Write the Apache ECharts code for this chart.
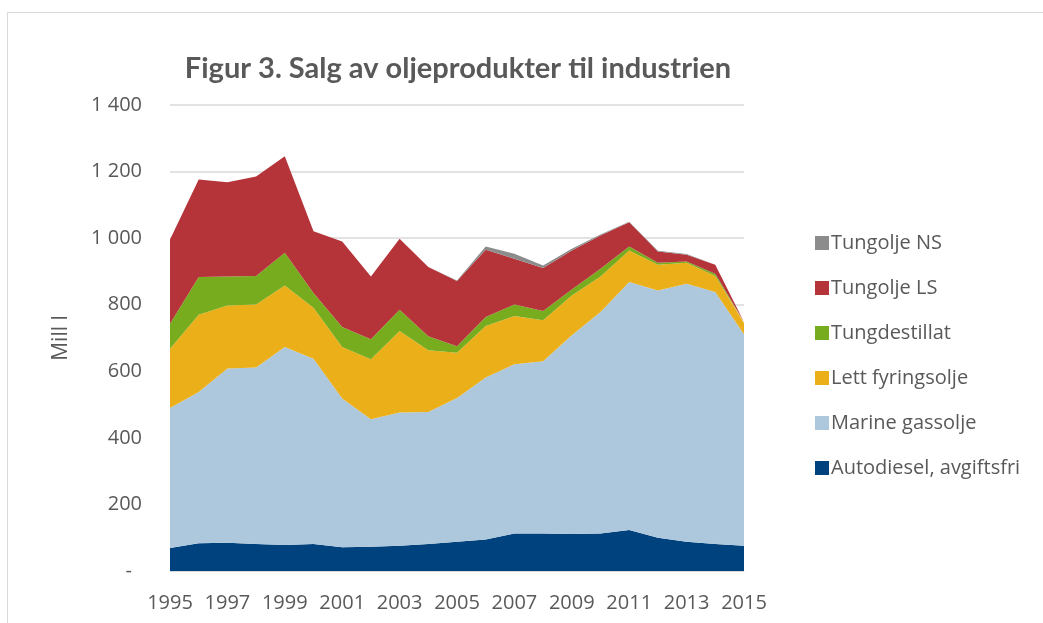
<!DOCTYPE html>
<html>
<head>
<meta charset="utf-8">
<script src="https://cdn.jsdelivr.net/npm/echarts@6/dist/echarts.min.js"></script>
<style>
  html, body { margin: 0; padding: 0; background: #fff; }
  #chart { width: 1043px; height: 623px; }
</style>
</head>
<body>
<div id="chart"></div>
<script>
// år
const years = ['1995','1996','1997','1998','1999','2000','2001','2002','2003','2004','2005',
  '2006','2007','2008','2009','2010','2011','2012','2013','2014','2015'];
// Mill l, lest av figuren
const autodiesel = [69, 83, 85, 81, 78, 81, 71, 73, 76, 81, 88, 95, 113, 113, 111, 113, 123, 100, 88, 81, 76];
const marineGassolje = [421, 455, 523, 530, 595, 557, 447, 383, 400, 397, 432, 486, 508, 517, 597, 665, 745, 743, 775, 757, 635];
const lettFyringsolje = [178, 232, 190, 190, 185, 153, 155, 180, 245, 185, 136, 155, 145, 123, 120, 107, 95, 77, 63, 48, 34];
const tungdestillat = [75, 113, 87, 85, 98, 44, 60, 60, 64, 42, 19, 27, 35, 28, 18, 23, 12, 6, 4, 7, 2];
const tungoljeLS = [253, 293, 283, 299, 290, 186, 257, 189, 213, 208, 196, 202, 137, 129, 117, 100, 73, 34, 20, 27, 1];
const tungoljeNS = [0, 0, 0, 0, 0, 0, 0, 0, 0, 0, 2, 10, 15, 8, 5, 3, 1, 2, 2, 0, 0];
const yTicks = [0, 200, 400, 600, 800, 1000, 1200, 1400];

const textColor = '#595959';
const font = 'Open Sans';

function area(name, data, color) {
  return {
    name: name,
    type: 'line',
    stack: 'total',
    data: data,
    symbol: 'none',
    lineStyle: { width: 0 },
    areaStyle: { color: color, opacity: 1 },
    itemStyle: { color: color }
  };
}

let chart = echarts.init(document.getElementById('chart'));
let option = {
  animation: false,
  title: {
    text: 'Figur 3. Salg av oljeprodukter til industrien',
    left: 453,
    textAlign: 'center',
    top: 49,
    textStyle: { color: textColor, fontFamily: 'Lato', fontWeight: 'bold', fontSize: 29 }
  },
  graphic: [{
    type: 'rect',
    shape: { x: 7.5, y: 12.5, width: 1100, height: 700 },
    style: { fill: 'none', stroke: '#d9d9d9', lineWidth: 1 },
    silent: true
  }],
  grid: { left: 170, right: 299, top: 105, bottom: 52 },
  legend: {
    orient: 'vertical',
    left: 810,
    top: 228,
    icon: 'rect',
    itemWidth: 14,
    itemHeight: 14,
    itemGap: 25,
    textStyle: { color: textColor, fontFamily: font, fontSize: 20, padding: [0, 0, 0, -3] },
    data: ['Tungolje NS', 'Tungolje LS', 'Tungdestillat', 'Lett fyringsolje', 'Marine gassolje', 'Autodiesel, avgiftsfri']
  },
  xAxis: {
    type: 'category',
    data: years,
    boundaryGap: false,
    axisLine: { lineStyle: { color: '#d9d9d9' } },
    axisTick: { show: false },
    axisLabel: { color: textColor, fontFamily: font, fontSize: 20, interval: 1, margin: 22 }
  },
  yAxis: {
    type: 'value',
    min: yTicks[0],
    max: yTicks[yTicks.length - 1],
    interval: 200,
    name: 'Mill l',
    nameLocation: 'middle',
    nameGap: 98,
    nameTextStyle: { color: textColor, fontFamily: font, fontSize: 21 },
    axisLine: { show: false },
    axisTick: { show: false },
    splitLine: { lineStyle: { color: '#d9d9d9', width: 1.5 } },
    axisLabel: {
      color: textColor, fontFamily: font, fontSize: 20, margin: 28,
      formatter: function (v) {
        if (v === 0) return '{d|-}';
        return String(v).replace(/\B(?=(\d{3})+(?!\d))/g, ' ');
      },
      rich: { d: { color: textColor, fontFamily: font, fontSize: 20, padding: [0, 10, 0, 0] } }
    }
  },
  series: [
    area('Autodiesel, avgiftsfri', autodiesel, '#00427e'),
    area('Marine gassolje', marineGassolje, '#adc8dc'),
    area('Lett fyringsolje', lettFyringsolje, '#ebaf19'),
    area('Tungdestillat', tungdestillat, '#77ac1e'),
    area('Tungolje LS', tungoljeLS, '#b5343a'),
    area('Tungolje NS', tungoljeNS, '#8c8c8c')
  ]
};
chart.setOption(option);
</script>
</body>
</html>
